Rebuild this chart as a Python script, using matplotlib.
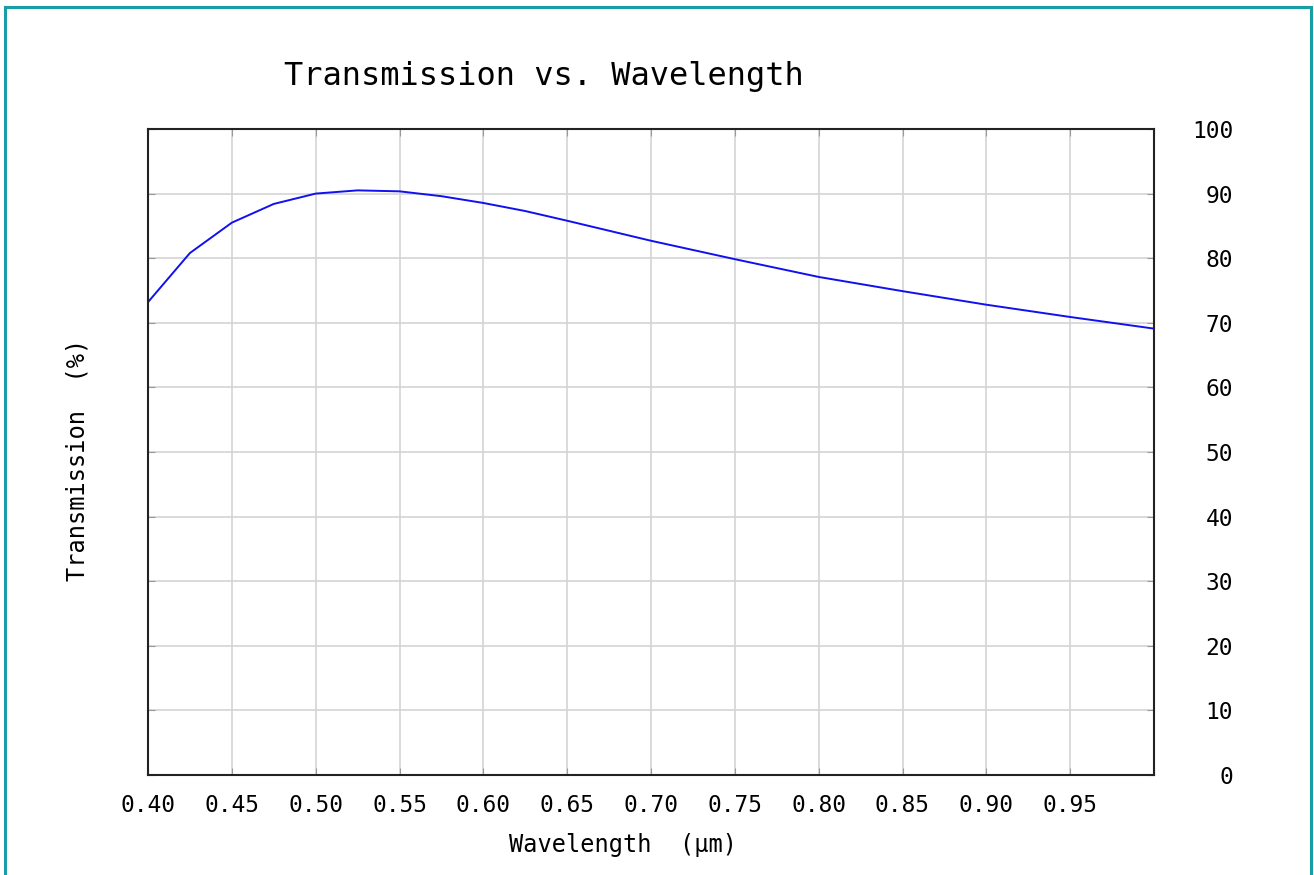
#!/usr/bin/env python
import matplotlib
matplotlib.use("Agg")
from matplotlib import pyplot as plt
from matplotlib.lines import Line2D

WAVELENGTH = [0.400, 0.425, 0.450, 0.475, 0.500, 0.525, 0.550, 0.575, 0.600, 0.625,
              0.650, 0.700, 0.750, 0.800, 0.850, 0.900, 0.950, 1.000]
TRANSMISSION = [73.2, 80.8, 85.5, 88.4, 90.0, 90.5, 90.35, 89.6, 88.55, 87.3,
                85.8, 82.7, 79.85, 77.1, 74.9, 72.8, 70.9, 69.1]
X_TICKS = [0.40, 0.45, 0.50, 0.55, 0.60, 0.65, 0.70, 0.75, 0.80, 0.85, 0.90, 0.95]
X_GRID = X_TICKS + [1.00]
Y_TICKS = list(range(0, 101, 10))

FONT = "DejaVu Sans Mono"
FRAME_COLOR = "#1a9ea5"


def draw_frame(fig):
    # teal border on left, top and right; the bottom is cut off
    w, h = 1314, 875
    x0, x1, y0 = 4.5 / w, 1311.0 / w, 1 - 6.5 / h
    for xs, ys in [([x0, x0], [-0.1, y0]), ([x0, x1], [y0, y0]), ([x1, x1], [y0, -0.1])]:
        fig.add_artist(Line2D(xs, ys, color=FRAME_COLOR, lw=2.2, transform=fig.transFigure))


def main():
    fig = plt.figure(figsize=(13.14, 8.75), dpi=100)
    ax = fig.add_axes([148 / 1314, 1 - 775 / 875, (1154 - 148) / 1314, (775 - 129) / 875])

    ax.plot(WAVELENGTH, TRANSMISSION, color="#1010f0", lw=1.4)

    ax.set_xlim(0.40, 1.00)
    ax.set_ylim(0, 100)
    ax.set_xticks(X_GRID)
    ax.set_xticklabels([f"{t:.2f}" for t in X_TICKS] + [""])
    ax.set_yticks(Y_TICKS)
    ax.set_yticklabels([str(t) for t in Y_TICKS])

    ax.grid(True, color="#d4d4d4", lw=1.2)
    ax.set_axisbelow(True)
    for s in ax.spines.values():
        s.set_color("#222222")
        s.set_linewidth(1.5)

    ax.tick_params(axis="both", direction="in", length=5, color="#999999",
                   top=True, bottom=True, left=True, right=True)
    ax.tick_params(axis="x", pad=14, labelsize=16.5)
    ax.tick_params(axis="y", labelleft=False, labelright=True, pad=57, labelsize=16.5)
    for lab in ax.get_xticklabels() + ax.get_yticklabels():
        lab.set_fontfamily(FONT)
    for lab in ax.get_yticklabels():
        lab.set_horizontalalignment("right")

    fig.text(544 / 1314, 1 - 77 / 875, "Transmission vs. Wavelength", family=FONT,
             fontsize=23, ha="center", va="center")
    fig.text(623 / 1314, 1 - 845 / 875, "Wavelength  (\u00b5m)", family=FONT,
             fontsize=17, ha="center", va="center")
    fig.text(78 / 1314, 1 - 460 / 875, "Transmission  (%)", family=FONT,
             fontsize=17, ha="center", va="center", rotation=90)

    draw_frame(fig)
    fig.savefig("out.png", dpi=100)


if __name__ == '__main__':
    main()
